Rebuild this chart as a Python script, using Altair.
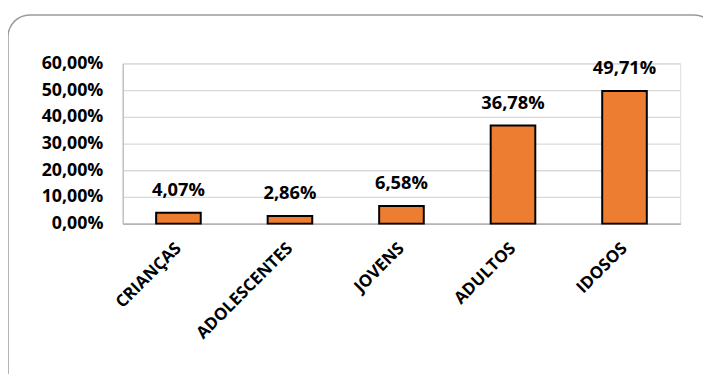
import altair as alt
import pandas as pd

categories = ["CRIANÇAS", "ADOLESCENTES", "JOVENS", "ADULTOS", "IDOSOS"]
values = [0.0407, 0.0286, 0.0658, 0.3678, 0.4971]
y_ticks = [0, 0.1, 0.2, 0.3, 0.4, 0.5, 0.6]

df = pd.DataFrame({"cat": categories, "v": values})

FONT = "Open Sans"

base = alt.Chart(df).transform_calculate(
    lab="replace(format(datum.v, '.2%'), '.', ',')"
)

x = alt.X("cat:N", sort=categories, title=None,
          scale=alt.Scale(paddingInner=0.6, paddingOuter=0.3),
          axis=alt.Axis(labelAngle=-45, labelAlign="right", labelBaseline="middle",
                        labelPadding=22, ticks=False, domainColor="#a6a6a6",
                        domainWidth=1.5, labelFont=FONT, labelFontSize=17,
                        labelFontWeight="bold", labelColor="#000000"))
y = alt.Y("v:Q", title=None,
          scale=alt.Scale(domain=[0, 0.6], nice=False),
          axis=alt.Axis(values=y_ticks, labelExpr="replace(format(datum.value, '.2%'), '.', ',')",
                        ticks=False, labelPadding=20, domainColor="#b0b0b0",
                        gridColor="#d9d9d9", gridWidth=1.3, labelFont=FONT,
                        labelFontSize=18, labelFontWeight="bold", labelColor="#000000"))

bars = base.mark_bar(color="#ED7D31", stroke="#000000", strokeWidth=2).encode(x=x, y=y)
labels = base.mark_text(font=FONT, fontSize=18.5, fontWeight="bold", baseline="bottom",
                        dy=-13, color="#000000").encode(x=x, y=y, text="lab:N")

frame = alt.Chart(alt.Data(values=[{"a": 1}])).mark_rect(
    fill="white", fillOpacity=0, stroke="#9a9a9a", strokeWidth=1.5, cornerRadius=22
).encode(x=alt.value(-116), x2=alt.value(600), y=alt.value(-49), y2=alt.value(335))

chart = alt.layer(frame, bars, labels).properties(
    width=564, height=162,
    autosize=alt.AutoSizeParams(type="none"),
    padding={"left": 116, "top": 54, "right": 23, "bottom": 150},
).configure_view(stroke=None).configure(background="white")

chart.save("out.html", embed_options={"renderer": "svg", "actions": False})
